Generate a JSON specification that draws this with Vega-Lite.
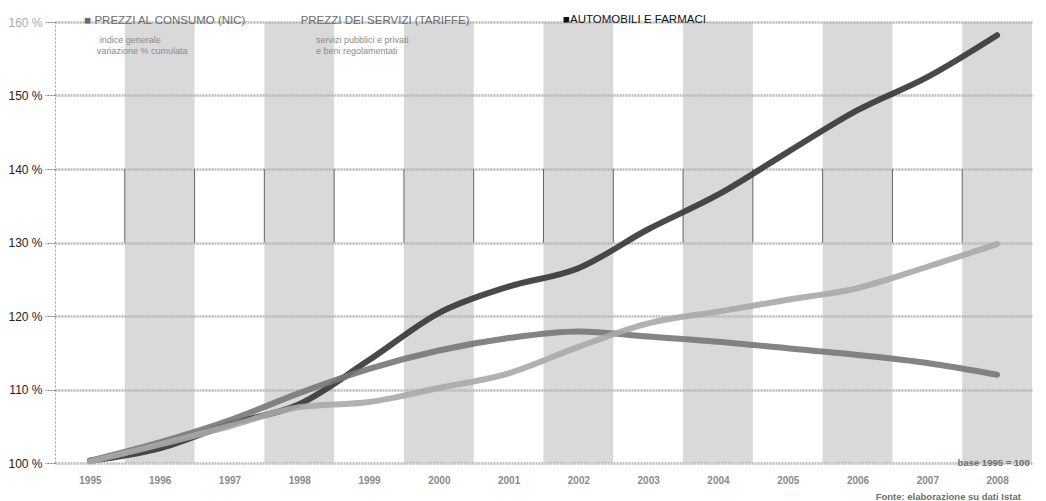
{
  "$schema": "https://vega.github.io/schema/vega-lite/v6.json",
  "width": 977,
  "height": 441,
  "autosize": "none",
  "padding": {"left": 55, "top": 22, "right": 14, "bottom": 38},
  "background": "white",
  "config": {"view": {"stroke": null}, "font": "Liberation Sans"},
  "datasets": {
    "bands": [
      {"start": 1995.5, "end": 1996.5},
      {"start": 1997.5, "end": 1998.5},
      {"start": 1999.5, "end": 2000.5},
      {"start": 2001.5, "end": 2002.5},
      {"start": 2003.5, "end": 2004.5},
      {"start": 2005.5, "end": 2006.5},
      {"start": 2007.5, "end": 2008.5}
    ],
    "dividers": [
      {"pos": 1995.5}, {"pos": 1996.5}, {"pos": 1997.5}, {"pos": 1998.5}, {"pos": 1999.5},
      {"pos": 2000.5}, {"pos": 2001.5}, {"pos": 2002.5}, {"pos": 2003.5}, {"pos": 2004.5},
      {"pos": 2005.5}, {"pos": 2006.5}, {"pos": 2007.5}
    ],
    "series": [
      {"year": 1995, "serie": "Automobili e farmaci", "value": 100.3},
      {"year": 1996, "serie": "Automobili e farmaci", "value": 102.0},
      {"year": 1997, "serie": "Automobili e farmaci", "value": 105.3},
      {"year": 1998, "serie": "Automobili e farmaci", "value": 108.0},
      {"year": 1999, "serie": "Automobili e farmaci", "value": 114.0},
      {"year": 2000, "serie": "Automobili e farmaci", "value": 120.4},
      {"year": 2001, "serie": "Automobili e farmaci", "value": 124.0},
      {"year": 2002, "serie": "Automobili e farmaci", "value": 126.5},
      {"year": 2003, "serie": "Automobili e farmaci", "value": 131.8},
      {"year": 2004, "serie": "Automobili e farmaci", "value": 136.5},
      {"year": 2005, "serie": "Automobili e farmaci", "value": 142.3},
      {"year": 2006, "serie": "Automobili e farmaci", "value": 148.0},
      {"year": 2007, "serie": "Automobili e farmaci", "value": 152.5},
      {"year": 2008, "serie": "Automobili e farmaci", "value": 158.2},
      {"year": 1995, "serie": "Prezzi al consumo", "value": 100.3},
      {"year": 1996, "serie": "Prezzi al consumo", "value": 102.8},
      {"year": 1997, "serie": "Prezzi al consumo", "value": 105.8},
      {"year": 1998, "serie": "Prezzi al consumo", "value": 109.5},
      {"year": 1999, "serie": "Prezzi al consumo", "value": 112.8},
      {"year": 2000, "serie": "Prezzi al consumo", "value": 115.3},
      {"year": 2001, "serie": "Prezzi al consumo", "value": 117.0},
      {"year": 2002, "serie": "Prezzi al consumo", "value": 117.9},
      {"year": 2003, "serie": "Prezzi al consumo", "value": 117.2},
      {"year": 2004, "serie": "Prezzi al consumo", "value": 116.5},
      {"year": 2005, "serie": "Prezzi al consumo", "value": 115.6},
      {"year": 2006, "serie": "Prezzi al consumo", "value": 114.7},
      {"year": 2007, "serie": "Prezzi al consumo", "value": 113.6},
      {"year": 2008, "serie": "Prezzi al consumo", "value": 112.0},
      {"year": 1995, "serie": "Servizi", "value": 100.2},
      {"year": 1996, "serie": "Servizi", "value": 102.5},
      {"year": 1997, "serie": "Servizi", "value": 105.0},
      {"year": 1998, "serie": "Servizi", "value": 107.6},
      {"year": 1999, "serie": "Servizi", "value": 108.3},
      {"year": 2000, "serie": "Servizi", "value": 110.2},
      {"year": 2001, "serie": "Servizi", "value": 112.2},
      {"year": 2002, "serie": "Servizi", "value": 115.8},
      {"year": 2003, "serie": "Servizi", "value": 119.0},
      {"year": 2004, "serie": "Servizi", "value": 120.6},
      {"year": 2005, "serie": "Servizi", "value": 122.2},
      {"year": 2006, "serie": "Servizi", "value": 123.8},
      {"year": 2007, "serie": "Servizi", "value": 126.7},
      {"year": 2008, "serie": "Servizi", "value": 129.8}
    ],
    "notes": [
      {"x": 1994.92, "y": 160.1, "label": "■ PREZZI AL CONSUMO (NIC)", "kind": "title1"},
      {"x": 1995.14, "y": 157.55, "label": "indice generale", "kind": "sub"},
      {"x": 1995.1, "y": 156.05, "label": "variazione % cumulata", "kind": "sub"},
      {"x": 1998.02, "y": 160.1, "label": "PREZZI DEI SERVIZI (TARIFFE)", "kind": "title1"},
      {"x": 1998.24, "y": 157.55, "label": "servizi pubblici e privati", "kind": "sub"},
      {"x": 1998.24, "y": 156.05, "label": "e beni regolamentati", "kind": "sub"},
      {"x": 2001.78, "y": 160.3, "label": "■AUTOMOBILI E FARMACI", "kind": "title3"}
    ],
    "foot": [
      {"x": 2007.95, "y": 100.0, "label": "base 1995 = 100"},
      {"x": 2007.3, "y": 95.4, "label": "Fonte: elaborazione su dati Istat"}
    ]
  },
  "layer": [
    {
      "data": {"name": "bands"},
      "mark": {"type": "rect", "color": "#b4b4b4", "opacity": 0.5},
      "encoding": {
        "x": {"field": "start", "type": "quantitative",
          "scale": {"domain": [1994.5, 2008.5], "nice": false, "zero": false},
          "axis": {"orient": "bottom", "values": [1995, 1996, 1997, 1998, 1999, 2000, 2001, 2002, 2003, 2004, 2005, 2006, 2007, 2008],
            "format": "d", "title": null, "domain": false, "ticks": false, "grid": false, "labelOverlap": false,
            "labelColor": "#8a8a8a", "labelFontSize": 10, "labelPadding": 12, "labelFontWeight": "bold"}},
        "x2": {"field": "end"},
        "y": {"datum": 100, "type": "quantitative",
          "scale": {"domain": [100, 160], "nice": false, "zero": false},
          "axis": {"orient": "left", "values": [100, 110, 120, 130, 140, 150, 160], "labelExpr": "datum.value + ' %'",
            "title": null, "labelFontSize": 12, "labelColor": {"condition": {"test": "datum.value == 160", "value": "#aaaaaa"}, "value": "#222222"},
            "labelPadding": 3, "tickSize": 10, "tickColor": "#777", "tickDash": [2, 1],
            "domainColor": "#999", "domainDash": [2, 2], "grid": true, "zindex": 0,
            "gridColor": "#b8b8b8", "gridWidth": 2.5, "gridDash": [2, 1]}},
        "y2": {"datum": 160}
      }
    },
    {
      "data": {"name": "dividers"},
      "mark": {"type": "rule", "color": "#666", "strokeWidth": 1},
      "encoding": {
        "x": {"field": "pos", "type": "quantitative"},
        "y": {"datum": 130, "type": "quantitative"},
        "y2": {"datum": 140}
      }
    },
    {
      "data": {"name": "series"},
      "mark": {"type": "line", "interpolate": "monotone", "strokeWidth": 6, "strokeCap": "round", "opacity": 0.9},
      "encoding": {
        "x": {"field": "year", "type": "quantitative"},
        "y": {"field": "value", "type": "quantitative"},
        "color": {"field": "serie", "type": "nominal",
          "scale": {"domain": ["Automobili e farmaci", "Prezzi al consumo", "Servizi"], "range": ["#353535", "#777777", "#a9a9a9"]},
          "legend": null}
      }
    },
    {
      "data": {"name": "notes"},
      "mark": {"type": "text", "align": "left", "baseline": "middle", "font": "Liberation Sans"},
      "encoding": {
        "x": {"field": "x", "type": "quantitative"},
        "y": {"field": "y", "type": "quantitative"},
        "text": {"field": "label"},
        "size": {"condition": {"test": "datum.kind == 'sub'", "value": 9}, "value": 11.5},
        "fontWeight": {"condition": {"test": "datum.kind == 'title1'", "value": "bold"}, "value": "normal"},
        "color": {"condition": [
          {"test": "datum.kind == 'title3'", "value": "#111111"},
          {"test": "datum.kind == 'title1'", "value": "#6a6a6a"}
        ], "value": "#8a8a8a"}
      }
    },
    {
      "data": {"name": "foot"},
      "mark": {"type": "text", "align": "center", "baseline": "middle", "fontSize": 9.5, "color": "#6f6f6f", "fontWeight": "bold"},
      "encoding": {
        "x": {"field": "x", "type": "quantitative"},
        "y": {"field": "y", "type": "quantitative"},
        "text": {"field": "label"}
      }
    }
  ]
}
